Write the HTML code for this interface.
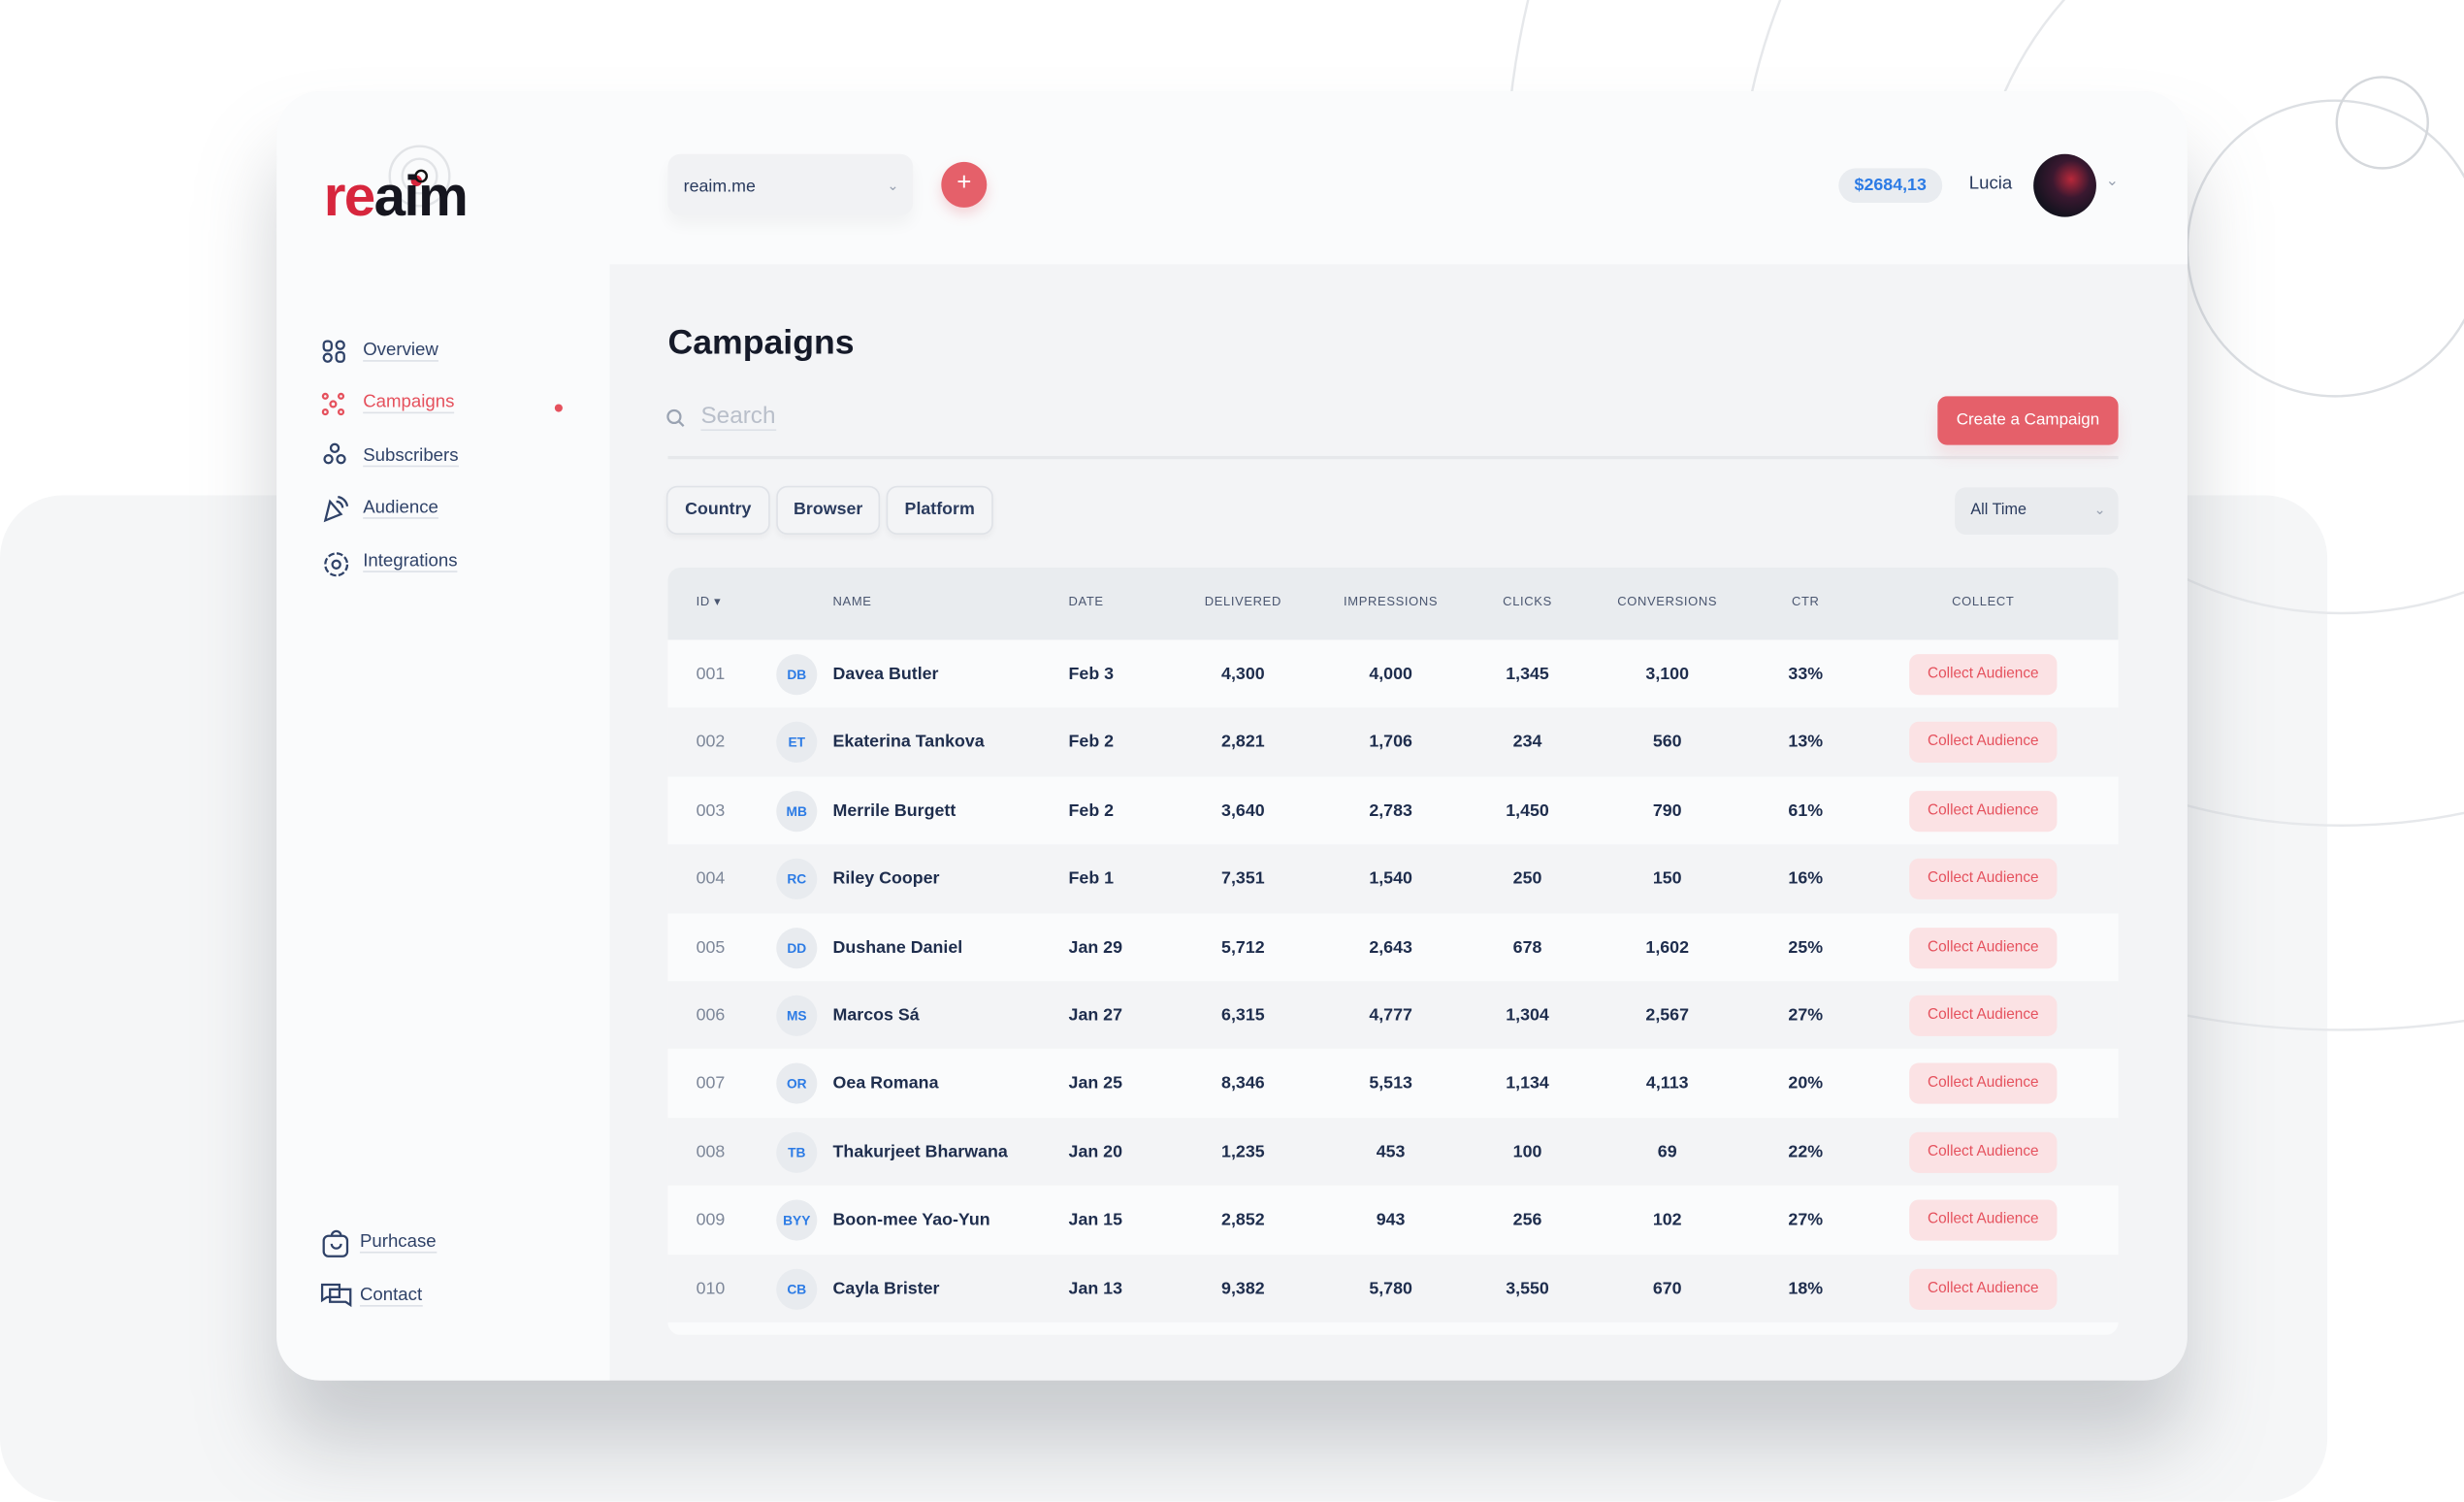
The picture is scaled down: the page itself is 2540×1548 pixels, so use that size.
<!DOCTYPE html>
<html><head><meta charset="utf-8"><style>
*{margin:0;padding:0;box-sizing:border-box}
html,body{width:2540px;height:1520px;overflow:hidden;background:#fff}
#s{position:absolute;left:0;top:0;width:1568px;height:938px;transform:scale(1.6199,1.6205);transform-origin:0 0;font-family:"Liberation Sans",sans-serif;color:#1e2d4d}
.a{position:absolute}
.bg2{left:0;top:315px;width:1481px;height:640px;background:#f5f6f7;border-radius:40px}
.card{left:176px;top:58px;width:1216px;height:820px;border-radius:28px;background:#f3f4f6;box-shadow:0 40px 50px rgba(120,125,135,.35);overflow:hidden}
.side{left:0;top:0;width:212px;height:820px;background:#fafbfc}
.top{left:212px;top:0;width:1004px;height:110px;background:#fafbfc}
.nav{font-size:11.5px;color:#2f4268;left:55px}
.u{border-bottom:1.5px solid #dde1e7}
.th{font-size:8px;color:#4a5670;letter-spacing:.4px;top:378px}
.r{left:425px;width:923px;height:43.4px}
.c{position:absolute;font-size:11px;font-weight:bold;color:#1e2d4d;top:16px}
.cc{transform:translateX(-50%)}
.av{position:absolute;left:69px;top:9px;width:26px;height:26px;border-radius:50%;background:#e8ebef;color:#2c7be5;font-size:8.5px;font-weight:bold;text-align:center;line-height:26px}
.btn{position:absolute;left:790px;top:9px;width:94px;height:26px;border-radius:6px;background:#fbe2e4;color:#e5515d;font-size:9.5px;text-align:center;line-height:26px}
.chip{top:251px;height:31px;border:1px solid #dfe2e7;border-radius:7px;background:#f3f4f6;font-size:11px;font-weight:bold;color:#2a3b5e;line-height:29px;text-align:center;box-shadow:0 2px 4px rgba(0,0,0,.04)}
</style></head><body><div id="s">
<div class="a bg2"></div>
<svg class="a" style="left:0;top:0" width="1568" height="938">
<g fill="none" stroke="#e6e8eb" stroke-width="1.5">
<circle cx="1490" cy="123" r="532"/><circle cx="1490" cy="141" r="384"/><circle cx="1490" cy="155" r="235"/>
<circle cx="1486" cy="158" r="94" stroke="#dcdfe3"/><circle cx="1516" cy="78" r="29" stroke="#d5d8dc"/>
</g></svg>
<div class="a card">
<div class="a side"></div>
<div class="a top"></div>
<svg class="a" style="left:70px;top:34px" width="44" height="44"><circle cx="21" cy="20" r="19" fill="none" stroke="#e2e4e7" stroke-width="1.5"/><circle cx="21" cy="20" r="11" fill="none" stroke="#e2e4e7" stroke-width="1.5"/><circle cx="19" cy="23" r="3.5" fill="#d7263d"/><circle cx="22" cy="20" r="3.5" fill="none" stroke="#111" stroke-width="1.5"/></svg>
<div class="a" style="left:30px;top:46px;font-size:36px;font-weight:bold;letter-spacing:-1px;color:#16161f"><span style="color:#d7263d">re</span>aim</div>
<div class="a nav" style="top:159px"><span class="u">Overview</span></div>
<div class="a nav" style="top:192px;color:#e5515d"><span class="u">Campaigns</span></div>
<div class="a" style="left:177px;top:199px;width:5px;height:5px;border-radius:50%;background:#e5515d"></div>
<div class="a nav" style="top:226px"><span class="u">Subscribers</span></div>
<div class="a nav" style="top:259px"><span class="u">Audience</span></div>
<div class="a nav" style="top:293px"><span class="u">Integrations</span></div>
<div class="a nav" style="top:726px;left:53px"><span class="u">Purhcase</span></div>
<div class="a nav" style="top:760px;left:53px"><span class="u">Contact</span></div>
<svg class="a" style="left:28px;top:157px" width="20" height="220" fill="none" stroke="#2f4268" stroke-width="1.4">
<rect x="2" y="2" width="5" height="6" rx="2"/><rect x="10" y="2" width="5" height="5" rx="2.5"/><rect x="2" y="10" width="5" height="5" rx="2.5"/><rect x="10" y="9" width="5" height="6" rx="2"/>
<g stroke="#e5515d"><circle cx="3" cy="37" r="1.5"/><circle cx="13" cy="37" r="1.5"/><circle cx="8" cy="42" r="1.8"/><circle cx="3" cy="47" r="1.5"/><circle cx="13" cy="47" r="1.5"/></g>
<circle cx="9" cy="70" r="2.5"/><circle cx="5" cy="77" r="2.5"/><circle cx="13" cy="77" r="2.5"/>
<path d="M3 116 L6 104 L13 112 Z M10 104 a4 4 0 0 1 4 4 M11 101 a7 7 0 0 1 6 6"/>
<circle cx="10" cy="144" r="2.5"/><circle cx="10" cy="144" r="7" stroke-dasharray="4 1.5"/>
</svg>
<svg class="a" style="left:28px;top:724px" width="22" height="56" fill="none" stroke="#2f4268" stroke-width="1.4"><rect x="2" y="4" width="15" height="13" rx="3"/><path d="M7 4 a3 3 0 0 1 6 0 M7 9 a3 3 0 0 0 6 0"/><path d="M1 35 h11 v8 h-8 l-3 2 z M6 38 h13 v10 l-3 -2 h-10 z"/></svg>
<div class="a" style="left:249px;top:40px;width:156px;height:39px;border-radius:8px;background:#f1f2f4;box-shadow:0 6px 10px rgba(0,0,0,.04);font-size:11px;color:#2a3b5e;line-height:42px;padding-left:10px">reaim.me<span style="position:absolute;right:9px;top:-1px;color:#9aa3b2;font-size:9px">⌄</span></div>
<div class="a" style="left:423px;top:45px;width:29px;height:29px;border-radius:50%;background:#e5606a;color:#fff;text-align:center;line-height:28px;font-size:16px;box-shadow:0 4px 8px rgba(229,96,106,.25)">+</div>
<div class="a" style="left:994px;top:49px;width:66px;height:22px;border-radius:11px;background:#e9ecf0;color:#2c7be5;font-size:11px;font-weight:bold;text-align:center;line-height:22px">$2684,13</div>
<div class="a" style="left:1077px;top:53px;font-size:11.5px;color:#2a3b5e">Lucia</div>
<div class="a" style="left:1118px;top:40px;width:40px;height:40px;border-radius:50%;background:radial-gradient(circle at 60% 40%,#b8283a 0,#3a1830 35%,#15131f 70%)"></div>
<div class="a" style="left:1164px;top:52px;font-size:10px;color:#9aa3b2">⌄</div>
<div class="a" style="left:249px;top:147px;font-size:22px;font-weight:bold;color:#151a29">Campaigns</div>
<svg class="a" style="left:248px;top:202px" width="12" height="12" fill="none" stroke="#9aa3b2" stroke-width="1.4"><circle cx="5" cy="5" r="4"/><path d="M8 8 l3 3"/></svg>
<div class="a" style="left:270px;top:198px;font-size:15px;color:#b9bfca"><span class="u">Search</span></div>
<div class="a" style="left:249px;top:232px;width:923px;height:2px;background:#e6e8eb"></div>
<div class="a" style="left:1057px;top:194px;width:115px;height:31px;border-radius:6px;background:#e5606a;color:#fff;font-size:10.5px;text-align:center;line-height:31px;box-shadow:0 6px 10px rgba(229,96,106,.15)">Create a Campaign</div>
<div class="a chip" style="left:248px;width:66px">Country</div>
<div class="a chip" style="left:318px;width:66px">Browser</div>
<div class="a chip" style="left:388px;width:68px">Platform</div>
<div class="a" style="left:1068px;top:252px;width:104px;height:30px;border-radius:7px;background:#e9ebee;font-size:10px;color:#2a3b5e;line-height:30px;padding-left:10px">All Time<span style="position:absolute;right:8px;top:-1px;color:#9aa3b2;font-size:9px">⌄</span></div>
</div>
<div class="a" style="left:425px;top:361px;width:923px;height:488px;border-radius:8px;background:#fafbfc;overflow:hidden">
<div class="a" style="left:0;top:0;width:923px;height:46px;background:#e9ecef"></div>
</div>
<div class="a th" style="left:443px">ID ▾</div>
<div class="a th" style="left:530px">NAME</div>
<div class="a th" style="left:680px">DATE</div>
<div class="a th cc" style="left:791px">DELIVERED</div>
<div class="a th cc" style="left:885px">IMPRESSIONS</div>
<div class="a th cc" style="left:972px">CLICKS</div>
<div class="a th cc" style="left:1061px">CONVERSIONS</div>
<div class="a th cc" style="left:1149px">CTR</div>
<div class="a th cc" style="left:1262px">COLLECT</div>
<div id="rows"></div>
<script>
var d=[["001","DB","Davea Butler","Feb 3","4,300","4,000","1,345","3,100","33%"],["002","ET","Ekaterina Tankova","Feb 2","2,821","1,706","234","560","13%"],["003","MB","Merrile Burgett","Feb 2","3,640","2,783","1,450","790","61%"],["004","RC","Riley Cooper","Feb 1","7,351","1,540","250","150","16%"],["005","DD","Dushane Daniel","Jan 29","5,712","2,643","678","1,602","25%"],["006","MS","Marcos Sá","Jan 27","6,315","4,777","1,304","2,567","27%"],["007","OR","Oea Romana","Jan 25","8,346","5,513","1,134","4,113","20%"],["008","TB","Thakurjeet Bharwana","Jan 20","1,235","453","100","69","22%"],["009","BYY","Boon-mee Yao-Yun","Jan 15","2,852","943","256","102","27%"],["010","CB","Cayla Brister","Jan 13","9,382","5,780","3,550","670","18%"]];
var h="";d.forEach(function(r,i){h+='<div class="a r" style="top:'+(407+i*43.4)+'px;background:'+(i%2?'#f3f4f6':'#fafbfc')+'">'+
'<div class="c" style="left:18px;font-weight:normal;color:#7d8799">'+r[0]+'</div><div class="av">'+r[1]+'</div>'+
'<div class="c" style="left:105px">'+r[2]+'</div><div class="c" style="left:255px">'+r[3]+'</div>'+
'<div class="c cc" style="left:366px">'+r[4]+'</div><div class="c cc" style="left:460px">'+r[5]+'</div><div class="c cc" style="left:547px">'+r[6]+'</div><div class="c cc" style="left:636px">'+r[7]+'</div><div class="c cc" style="left:724px">'+r[8]+'</div>'+
'<div class="btn">Collect Audience</div></div>';});
document.getElementById("rows").innerHTML=h;
</script>
</div></body></html>
